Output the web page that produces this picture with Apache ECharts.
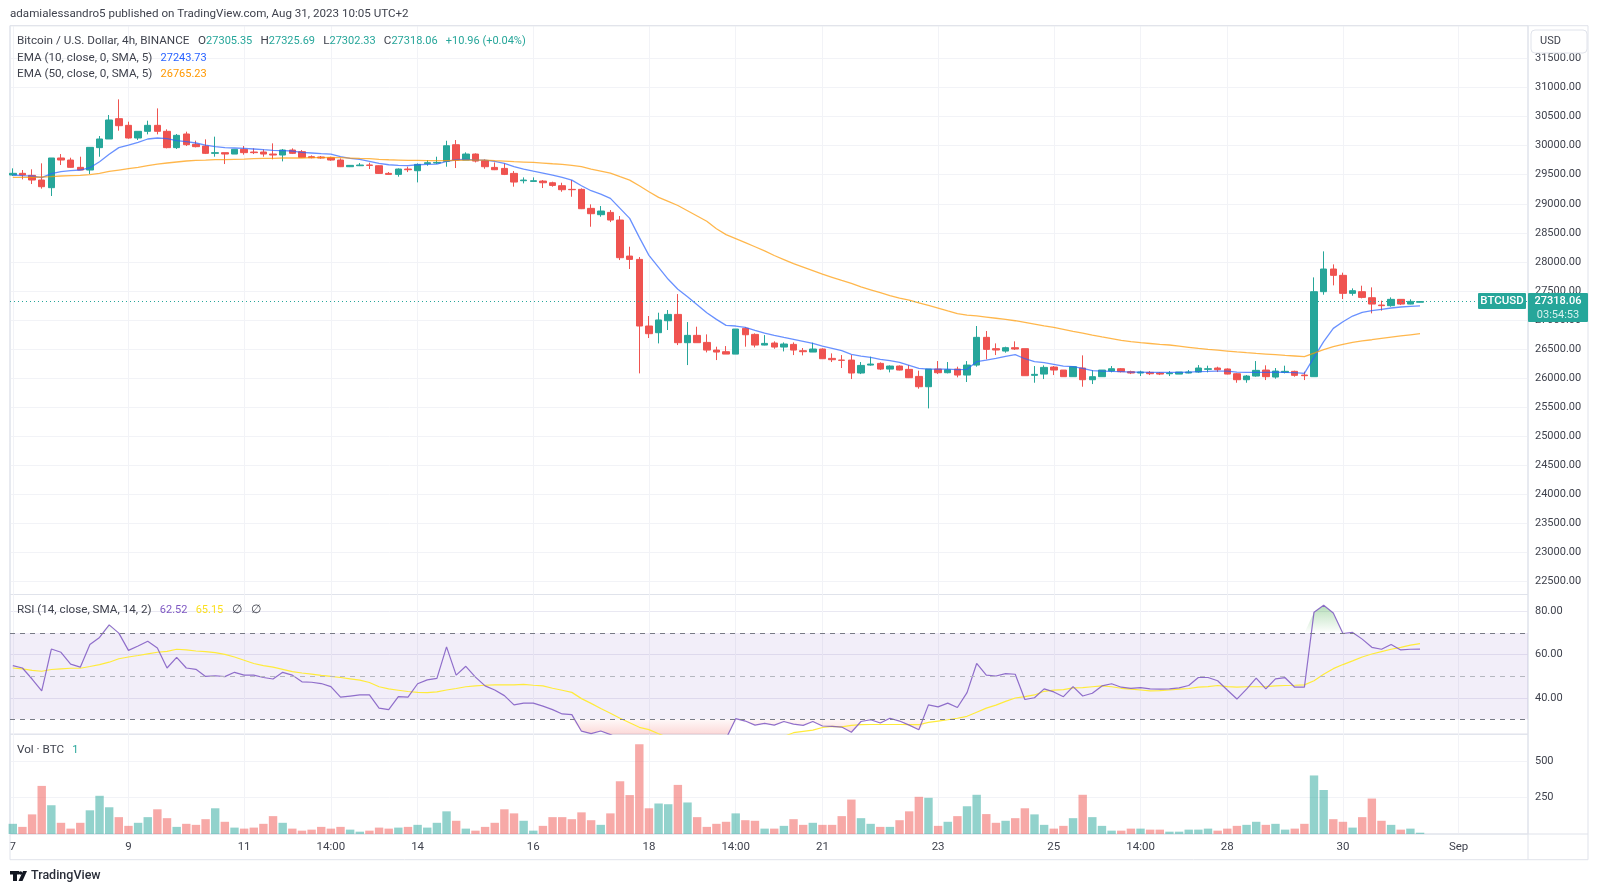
<!DOCTYPE html>
<html>
<head>
<meta charset="utf-8">
<title>BTCUSD</title>
<script src="https://cdn.jsdelivr.net/npm/echarts@6/dist/echarts.min.js"></script>
<style>
html,body{margin:0;padding:0;background:#fff;}
#chart{width:1600px;height:892px;}
</style>
</head>
<body>
<div id="chart"></div>
<script>
// open, close, low, high - 4h bars from Aug 7
const candles = [
[29495,29524,29478,29610],[29524,29495,29420,29581],[29489,29409,29340,29593],[29409,29294,29260,29696],
[29277,29788,29134,29788],[29788,29753,29667,29856],[29753,29627,29621,29793],[29627,29581,29581,29810],
[29581,29971,29512,29971],[29966,30115,29810,30166],[30115,30442,30115,30528],[30465,30344,30258,30797],
[30350,30132,30120,30413],[30132,30247,30097,30247],[30247,30350,30195,30430],[30350,30247,30195,30642],
[30247,29966,29954,30281],[29966,30178,29943,30201],[30201,30017,29994,30241],[30023,29983,29971,30086],
[29994,29868,29856,30109],[29868,29880,29810,30155],[29880,29856,29684,29880],[29856,29937,29856,29937],
[29937,29880,29845,29994],[29891,29880,29856,29954],[29891,29856,29810,29937],[29856,29839,29765,30040],
[29839,29925,29730,29943],[29925,29868,29856,29954],[29897,29799,29793,29925],[29810,29793,29782,29833],
[29805,29788,29776,29822],[29793,29753,29741,29810],[29753,29638,29632,29781],[29638,29661,29632,29667],
[29655,29667,29649,29701],[29667,29661,29598,29707],[29655,29523,29517,29661],[29523,29506,29500,29546],
[29506,29598,29466,29609],[29598,29586,29546,29638],[29569,29678,29368,29695],[29690,29707,29655,29752],
[29701,29712,29684,29810],[29730,29999,29638,30085],[30016,29753,29615,30097],[29753,29856,29753,29885],
[29856,29735,29712,29867],[29741,29638,29603,29764],[29626,29586,29580,29712],[29609,29506,29494,29695],
[29523,29374,29294,29563],[29397,29408,29351,29454],[29385,29397,29380,29454],[29391,29362,29271,29408],
[29362,29316,29294,29380],[29311,29242,29207,29362],[29248,29242,29121,29408],[29248,28915,28909,29265],
[28921,28829,28605,28990],[28812,28875,28777,28961],[28852,28720,28685,28892],[28720,28072,28031,28789],
[28100,28043,27877,28261],[28043,26896,26081,28083],[26896,26764,26689,27068],[26781,27000,26597,27125],
[26987,27096,26827,27171],[27096,26609,26568,27446],[26609,26735,26224,26964],[26735,26609,26609,26884],
[26614,26482,26442,26752],[26482,26448,26310,26540],[26454,26413,26413,26551],[26413,26844,26413,26844],
[26855,26746,26540,26873],[26752,26568,26528,26769],[26568,26597,26563,26740],[26603,26534,26505,26632],
[26534,26586,26459,26614],[26580,26482,26396,26614],[26471,26454,26391,26517],[26448,26500,26448,26609],
[26500,26333,26328,26511],[26339,26316,26276,26425],[26310,26305,26173,26396],[26310,26087,25983,26396],
[26087,26218,26069,26276],[26224,26241,26213,26368],[26253,26155,26138,26270],[26155,26207,26098,26218],
[26207,26138,26132,26218],[26150,26006,26000,26224],[26029,25851,25817,26127],[25851,26155,25478,26155],
[26155,26092,26069,26293],[26092,26144,26081,26276],[26155,26052,26012,26196],[26052,26224,25932,26293],
[26224,26701,26196,26896],[26701,26494,26322,26810],[26506,26483,26396,26597],[26465,26523,26437,26540],
[26523,26500,26483,26632],[26506,26041,26041,26506],[26047,26064,25920,26207],[26069,26184,25983,26219],
[26190,26138,26052,26207],[26138,26024,26024,26138],[26024,26196,26024,26196],[26173,25972,25851,26391],
[25972,26024,25897,26138],[26024,26138,26024,26138],[26121,26161,26098,26207],[26161,26110,26098,26173],
[26110,26087,26069,26127],[26087,26104,26035,26127],[26098,26075,26052,26121],[26087,26069,26052,26104],
[26075,26087,26035,26121],[26069,26104,26069,26104],[26087,26104,26081,26138],[26104,26173,26092,26224],
[26150,26161,26098,26213],[26173,26144,26104,26196],[26156,26069,26064,26167],[26075,25972,25920,26087],
[25972,26035,25920,26052],[26035,26133,26024,26293],[26138,26024,25966,26219],[26018,26121,25989,26173],
[26098,26116,26081,26213],[26116,26047,26024,26127],[26052,26041,25966,26110],[26024,27487,26024,27733],
[27487,27877,27435,28181],[27877,27768,27596,27957],[27768,27458,27360,27814],[27458,27504,27418,27544],
[27487,27389,27372,27590],[27383,27274,27114,27561],[27257,27246,27160,27332],[27246,27355,27228,27389],
[27355,27274,27257,27355],[27274,27320,27269,27355],[27305.35,27318.06,27302.33,27325.69]
];
const ema10 = [
29495,29484,29478,29449,29518,29552,29570,29581,29621,29724,29851,29966,30011,30057,30115,30132,
30120,30086,30069,30046,30011,29983,29966,29960,29954,29943,29931,29920,29914,29908,29885,29874,
29862,29856,29810,29781,29764,29730,29695,29672,29661,29655,29672,29678,29684,29730,29758,29764,
29753,29753,29730,29695,29638,29598,29563,29529,29494,29454,29408,29311,29225,29167,29093,28921,
28749,28422,28112,27905,27700,27530,27400,27263,27125,27010,26907,26896,26873,26821,26775,26735,
26700,26666,26632,26597,26551,26511,26471,26408,26379,26356,26322,26299,26270,26219,26167,26155,
26155,26155,26144,26150,26282,26310,26339,26374,26402,26333,26282,26265,26236,26207,26196,26167,
26127,26121,26115,26110,26104,26104,26098,26098,26098,26098,26104,26110,26115,26121,26121,26104,
26098,26098,26098,26104,26098,26093,26081,26356,26626,26856,26970,27068,27131,27160,27183,27206,
27223,27234,27243.73
];
const ema50 = [
29455,29455,29455,29461,29466,29478,29484,29489,29501,29524,29558,29581,29604,29627,29656,29684,
29702,29719,29736,29748,29753,29759,29759,29765,29770,29776,29782,29782,29788,29788,29788,29793,
29793,29798,29793,29787,29781,29776,29764,29758,29753,29747,29747,29741,29741,29741,29747,29753,
29753,29753,29741,29735,29724,29718,29712,29701,29689,29678,29661,29638,29598,29563,29529,29466,
29408,29311,29208,29110,29040,28970,28880,28790,28700,28570,28470,28400,28330,28260,28190,28110,
28040,27970,27910,27850,27790,27735,27680,27630,27570,27520,27470,27420,27375,27340,27295,27250,
27205,27155,27110,27085,27070,27050,27030,27010,26987,26960,26930,26900,26873,26840,26805,26775,
26741,26710,26680,26650,26626,26610,26595,26580,26569,26550,26530,26510,26494,26480,26465,26450,
26437,26425,26414,26402,26390,26380,26368,26430,26490,26540,26580,26615,26640,26660,26683,26705,
26725,26745,26765.23
];
const rsi = [
54.9,53.8,48.7,43.2,62.6,61.1,55.6,54.2,64.7,68,73.8,70,62,64,66.2,63.1,53.8,58.7,53.8,53.2,
49.9,50.2,49.8,51.8,50.5,50.5,49.4,48.7,51.8,50.5,47.4,47.2,46.6,45.2,40.3,40.8,41.3,41.3,35.2,34.5,
40.5,40.3,46.5,48.3,49,63.6,50.5,54.6,49.6,45.5,43.6,41,36.7,37.5,37.5,36.1,34.5,32.5,32.2,24.5,
23.4,24.6,22.9,21,19,12,12,14,15,13,16,17,18,19,21,30.3,29.2,27.3,28.1,27.3,
29,27.8,27.2,29,26.9,26.7,26.4,24,29,29.8,28.3,30.5,29.2,27.3,25.2,36.7,35.8,37.5,35.5,42.4,
55.9,50.5,50.1,51.2,50.9,39.2,40,44.1,42.7,40.5,45.2,40.8,42.1,45.5,46.5,44.9,44.4,44.7,44.1,44,
44.1,44.6,45.7,49.4,49.4,47.9,43.6,39.4,44,49.1,44.1,48.8,49.3,44.9,44.9,79.7,82.9,79.3,69.8,70.3,
67.2,63.4,62.5,64.7,62.2,62.5,62.52
];
const rsiMa = [
53.8,53.4,52.7,52.3,53.1,53.4,53.7,53.7,54.5,55.4,56.5,58.1,58.9,59.6,60.4,61.1,61.5,62.5,62.2,61.7,
61.4,60.9,60.1,58.9,57.4,55.9,54.9,54.2,53.2,52.1,51.5,51,50.4,49.9,49.4,48.8,48.2,47.1,45.1,44.1,
43.5,42.9,42.5,42.4,42.7,43.6,44.3,45.1,45.5,45.8,46,46,46,46.2,45.8,45.5,44.4,43.5,42.5,39.6,
37.4,35,32.8,30.5,28.4,26.3,25.2,23.3,21.5,20,18.5,17.5,17,17,17,17.5,18,18.5,19,20,
22,23.8,24.4,25,26.2,26.7,26.5,27.2,27.5,27.6,27.6,27.6,27.6,27.5,27.5,28.6,29.2,29.8,30.5,31.4,
33.3,35.2,36.6,38.3,39.9,40.5,41.3,43,43.5,43.8,44.6,44.7,45.1,45.5,45.1,44.4,44,43.6,43.2,43.3,
43.6,44,44.3,44.9,45.2,45.7,45.2,44.9,45.1,45.1,45.2,45.5,45.7,45.8,46,47.9,50.9,53.5,55.4,57.1,
58.9,60.3,61.4,62.5,63.4,64.4,65.15
];
const volume = [
70,49,135,331,198,77,37,77,163,263,184,116,56,77,116,170,109,49,70,63,
102,177,84,44,37,44,70,123,77,37,23,30,49,37,49,30,16,23,44,37,
44,49,63,44,77,156,91,37,23,49,77,170,142,91,23,56,116,116,102,149,
95,63,142,363,268,617,177,210,205,338,217,116,49,70,84,142,95,91,37,37,
56,102,63,77,63,63,123,237,109,70,49,49,95,156,256,249,56,84,123,191,
270,137,77,91,109,177,135,63,37,56,109,270,116,56,23,23,37,37,30,30,
16,16,30,30,37,23,37,56,63,84,63,70,30,37,70,403,303,102,84,44,
116,244,91,63,30,37,9
];

const UP = '#26a69a';
const DOWN = '#ef5350';
const GRID = '#f2f3f7';
const BORDER = '#e0e3eb';
const TEXT = '#3f424d';
const FONT = 'Roboto';

const timeLabels = {
    0: '7', 12: '9', 24: '11', 33: '14:00', 42: '14', 54: '16', 66: '18', 75: '14:00',
    84: '21', 96: '23', 108: '25', 117: '14:00', 126: '28', 138: '30', 150: 'Sep'
};
const timeTicks = Object.keys(timeLabels).map(Number);
const withIndex = (list) => list.map((v, i) => [i, v]);

function xAxisFor(gridIndex, showLabel) {
    return {
        type: 'value',
        gridIndex: gridIndex,
        min: -0.29,
        max: 157.2,
        axisLine: { show: false },
        axisTick: { show: false, customValues: timeTicks },
        splitLine: { show: true, lineStyle: { color: GRID, width: 1 } },
        axisLabel: {
            show: showLabel,
            customValues: timeTicks,
            formatter: (v) => timeLabels[v],
            color: TEXT,
            fontFamily: FONT,
            fontSize: 11.5,
            margin: 7,
            hideOverlap: false
        }
    };
}

function yAxisFor(gridIndex, min, max, ticks, digits, splitColor) {
    return {
        type: 'value',
        gridIndex: gridIndex,
        position: 'right',
        min: min,
        max: max,
        axisLine: { show: false },
        axisTick: { show: false, customValues: ticks },
        splitLine: { show: true, lineStyle: { color: splitColor, width: 1 } },
        axisLabel: {
            customValues: ticks,
            formatter: (v) => v.toFixed(digits),
            color: TEXT,
            fontFamily: FONT,
            fontSize: 11,
            margin: 7
        }
    };
}

const priceTicks = [];
for (let p = 22500; p <= 31500; p += 500) priceTicks.push(p);

const grids = [
    { left: 10, top: 25.7, width: 1518, height: 568.8, show: true, borderColor: BORDER, backgroundColor: 'transparent' },
    { left: 10, top: 594.5, width: 1518, height: 139.7, show: true, borderColor: BORDER, backgroundColor: 'transparent' },
    { left: 10, top: 734.2, width: 1518, height: 99.8, show: true, borderColor: BORDER, backgroundColor: 'transparent' }
];

// words are a little wider than the digits in the original legend
const legendRich = {
    t: { fill: TEXT, fontFamily: FONT, fontSize: 11.7 },
    g: { fill: UP, fontFamily: FONT, fontSize: 11 },
    b: { fill: '#2962ff', fontFamily: FONT, fontSize: 11 },
    o: { fill: '#ff9800', fontFamily: FONT, fontSize: 11 },
    p: { fill: '#7e57c2', fontFamily: FONT, fontSize: 11 },
    y: { fill: '#fbdf1d', fontFamily: FONT, fontSize: 11 }
};

function label(x, y, text, extra) {
    return {
        type: 'text',
        x: x,
        y: y,
        z: 20,
        style: Object.assign({
            text: text,
            fill: TEXT,
            fontFamily: FONT,
            fontSize: 11.6,
            verticalAlign: 'middle',
            rich: legendRich
        }, extra || {})
    };
}

const option = {
    animation: false,
    backgroundColor: '#ffffff',
    grid: grids,
    xAxis: [xAxisFor(0, false), xAxisFor(1, false), xAxisFor(2, true)],
    yAxis: [
        yAxisFor(0, 22275, 32065, priceTicks, 2, GRID),
        yAxisFor(1, 23.1, 87.9, [40, 60, 80], 2, '#e9e8f2'),
        yAxisFor(2, 0, 687, [250, 500], 0, GRID)
    ],
    series: [
        {
            type: 'candlestick',
            xAxisIndex: 0,
            yAxisIndex: 0,
            barWidth: 7,
            data: candles.map((c, i) => [i, c[0], c[1], c[2], c[3]]),
            encode: { x: 0, y: [1, 2, 3, 4] },
            itemStyle: { color: UP, color0: DOWN, borderColor: UP, borderColor0: DOWN, borderWidth: 1 },
            markLine: {
                silent: true,
                symbol: 'none',
                label: { show: false },
                lineStyle: { color: UP, type: [1, 3], width: 1 },
                data: [{ yAxis: 27318.06 }]
            },
            z: 3
        },
        {
            type: 'line', xAxisIndex: 0, yAxisIndex: 0, data: withIndex(ema10), showSymbol: false,
            lineStyle: { color: '#2962ff', width: 1.3, opacity: 0.7 }, z: 4
        },
        {
            type: 'line', xAxisIndex: 0, yAxisIndex: 0, data: withIndex(ema50), showSymbol: false,
            lineStyle: { color: '#ff9800', width: 1.3, opacity: 0.7 }, z: 4
        },
        {
            // overbought fill above 70
            type: 'line', xAxisIndex: 1, yAxisIndex: 1, showSymbol: false,
            data: rsi.map((v, i) => [i, Math.max(v, 70)]),
            lineStyle: { width: 0 },
            areaStyle: {
                origin: 70,
                opacity: 1,
                color: new echarts.graphic.LinearGradient(0, 0, 0, 1, [
                    { offset: 0, color: 'rgba(76,175,80,0.4)' },
                    { offset: 1, color: 'rgba(76,175,80,0)' }
                ])
            },
            z: 2
        },
        {
            // oversold fill below 30
            type: 'line', xAxisIndex: 1, yAxisIndex: 1, showSymbol: false,
            data: rsi.map((v, i) => [i, Math.min(v, 30)]),
            lineStyle: { width: 0 },
            areaStyle: {
                origin: 30,
                opacity: 1,
                color: new echarts.graphic.LinearGradient(0, 719, 0, 734, [
                    { offset: 0, color: 'rgba(239,83,80,0.03)' },
                    { offset: 1, color: 'rgba(239,83,80,0.22)' }
                ], true)
            },
            z: 2
        },
        {
            type: 'line', xAxisIndex: 1, yAxisIndex: 1, data: withIndex(rsi), showSymbol: false,
            lineStyle: { color: '#7e57c2', width: 1.2, opacity: 0.85 },
            markArea: {
                silent: true,
                itemStyle: { color: 'rgba(126,87,194,0.1)' },
                data: [[{ yAxis: 70 }, { yAxis: 30 }]]
            },
            markLine: {
                silent: true,
                symbol: 'none',
                label: { show: false },
                data: [
                    { yAxis: 70, lineStyle: { color: '#787b86', type: [5, 5], width: 1 } },
                    { yAxis: 50, lineStyle: { color: '#b5b7bf', type: [5, 5], width: 1 } },
                    { yAxis: 30, lineStyle: { color: '#787b86', type: [5, 5], width: 1 } }
                ]
            },
            z: 4
        },
        {
            type: 'line', xAxisIndex: 1, yAxisIndex: 1, data: withIndex(rsiMa), showSymbol: false,
            lineStyle: { color: '#ffeb3b', width: 1.2 }, z: 3
        },
        {
            type: 'bar', xAxisIndex: 2, yAxisIndex: 2, barWidth: 8.4,
            data: withIndex(volume),
            itemStyle: {
                color: (p) => candles[p.dataIndex][1] >= candles[p.dataIndex][0]
                    ? 'rgba(38,166,154,0.5)' : 'rgba(239,83,80,0.5)'
            }
        }
    ],
    graphic: [
        // outer frame and the price scale edge
        { type: 'rect', z: 1, shape: { x: 10, y: 25.7, width: 1578, height: 834 }, style: { fill: 'none', stroke: BORDER, lineWidth: 1 } },
        { type: 'line', z: 1, shape: { x1: 1528, y1: 25.7, x2: 1528, y2: 859.7 }, style: { stroke: BORDER, lineWidth: 1 } },
        { type: 'line', z: 1, shape: { x1: 10, y1: 834, x2: 1588, y2: 834 }, style: { stroke: BORDER, lineWidth: 1 } },

        label(10, 14.5, 'adamialessandro5 published on TradingView.com, Aug 31, 2023 10:05 UTC+2'),
        label(17, 41, '{t|Bitcoin / U.S. Dollar, 4h, BINANCE   O}{g|27305.35}{g|   }{t|H}{g|27325.69}{g|   }{t|L}{g|27302.33}{g|   }{t|C}{g|27318.06}{g|   +10.96 (+0.04%)}'),
        label(17, 58, '{t|EMA (10, close, 0, SMA, 5)}{b|   27243.73}'),
        label(17, 74, '{t|EMA (50, close, 0, SMA, 5)}{o|   26765.23}'),
        label(17, 610, '{t|RSI (14, close, SMA, 14, 2)}{p|   62.52}{y|   65.15}{t|   ∅   ∅}'),
        label(17, 750, '{t|Vol · BTC}{g|   1}'),

        // USD button
        { type: 'rect', z: 20, shape: { x: 1531, y: 30, width: 56, height: 23, r: 4 }, style: { fill: '#fff', stroke: BORDER, lineWidth: 1 } },
        label(1540, 41.5, 'USD', { fontSize: 11 }),

        // last price tags
        { type: 'rect', z: 20, shape: { x: 1478, y: 293, width: 48, height: 16, r: 1 }, style: { fill: UP } },
        label(1502, 301.5, 'BTCUSD', { fill: '#fff', fontSize: 11.5, fontWeight: 500, align: 'center' }),
        { type: 'rect', z: 20, shape: { x: 1528, y: 293, width: 60, height: 29, r: 1 }, style: { fill: UP } },
        label(1558, 301.5, '27318.06', { fill: '#fff', fontSize: 11, fontWeight: 500, align: 'center' }),
        label(1558, 315, '03:54:53', { fill: '#d6f1ee', fontSize: 11, align: 'center' }),

        // logo
        { type: 'rect', z: 20, shape: { x: 10, y: 871, width: 9, height: 3.5 }, style: { fill: '#131722' } },
        { type: 'rect', z: 20, shape: { x: 13, y: 874, width: 4, height: 7 }, style: { fill: '#131722' } },
        { type: 'circle', z: 20, shape: { cx: 20.5, cy: 873, r: 1.8 }, style: { fill: '#131722' } },
        { type: 'polygon', z: 20, shape: { points: [[23, 871], [27, 871], [22.5, 881], [18.5, 881]] }, style: { fill: '#131722' } },
        label(31, 876, 'TradingView', { fill: '#2a2e39', fontSize: 12.5, fontWeight: 500 })
    ]
};

const chart = echarts.init(document.getElementById('chart'));
chart.setOption(option);
window.addEventListener('resize', () => {
    chart.resize();
});
</script>
</body>
</html>
